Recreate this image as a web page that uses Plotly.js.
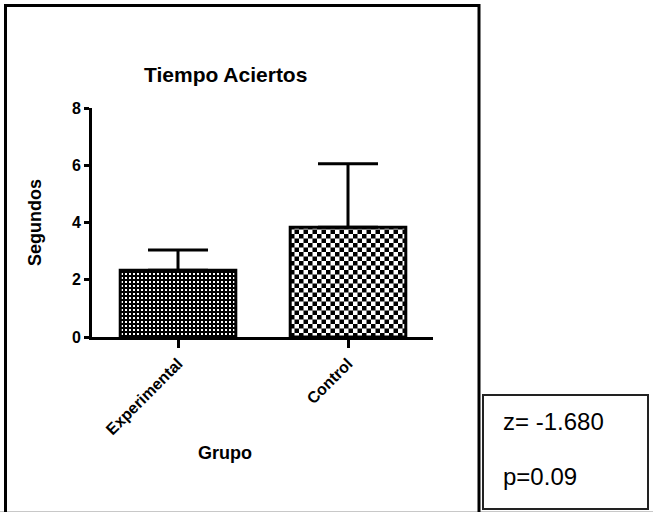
<!DOCTYPE html>
<html>
<head>
<meta charset="utf-8">
<script src="https://cdn.plot.ly/plotly-3.0.1.min.js"></script>
<style>html,body{margin:0;padding:0;background:#fff;}#chart{width:653px;height:512px;}</style>
</head>
<body>
<div id="chart"></div>
<script>
// ---- data ----
const categories = ['Experimental', 'Control'];
const means = [2.33, 3.83];
const errUp = [0.71, 2.22];
const yTicks = [0, 2, 4, 6, 8];
const chartTitle = 'Tiempo Aciertos';
const xTitle = 'Grupo';
const yTitle = 'Segundos';
const statLines = ['z= -1.680', 'p=0.09'];

// ---- layout geometry (pixels) ----
const W = 653, H = 512;
const L = 92, T = 108, R = 433, B = 337;
const pw = R - L, ph = B - T;
const px = x => (x - L) / pw;
const py = y => (B - y) / ph;
const FONT = 'Arial, "Liberation Sans", sans-serif';

const patterns = [
  {path: 'M0,0H4V1H0ZM0,3H4V4H0ZM0,1H1V3H0ZM3,1H4V3H3Z', size: 4, solidity: 0.75,
   fgcolor: '#000', bgcolor: '#fff', fillmode: 'replace'},
  {path: 'M0,0H4.5V4.5H0ZM4.5,4.5H9V9H4.5Z', size: 9, solidity: 0.5,
   fgcolor: '#000', bgcolor: '#fff', fillmode: 'replace'}
];

const traces = categories.map((c, i) => ({
  type: 'bar',
  x: [c],
  y: [means[i]],
  width: 0.68,
  marker: {color: '#fff', line: {color: '#000', width: 3}, pattern: patterns[i]},
  error_y: {type: 'data', symmetric: false, array: [errUp[i]], arrayminus: [0],
            color: '#000', thickness: 3, width: 30},
  hoverinfo: 'skip'
}));

const layout = {
  width: W, height: H,
  margin: {l: L, r: W - R, t: T, b: H - B, pad: 0},
  paper_bgcolor: '#fff', plot_bgcolor: '#fff',
  showlegend: false, barmode: 'overlay',
  font: {family: FONT, color: '#000'},
  xaxis: {
    range: [-0.506, 1.5], categoryorder: 'array', categoryarray: categories,
    showline: true, linecolor: '#000', linewidth: 3,
    ticks: 'outside', ticklen: 8, tickwidth: 3, tickcolor: '#000',
    tickangle: -45,
    tickfont: {family: FONT, size: 16, weight: 'bold', color: '#000'},
    showgrid: false, zeroline: false, fixedrange: true
  },
  yaxis: {
    range: [0, 8],
    tickvals: yTicks, ticktext: yTicks.map(String),
    showline: true, linecolor: '#000', linewidth: 3,
    ticks: 'outside', ticklen: 5, tickwidth: 3, tickcolor: '#000',
    tickfont: {family: FONT, size: 16, weight: 'bold', color: '#000'},
    showgrid: false, zeroline: false, fixedrange: true
  },
  shapes: [
    {type: 'line', xref: 'paper', yref: 'paper', x0: px(0), x1: px(653), y0: py(511.5), y1: py(511.5),
     line: {color: '#c8c8c8', width: 1}, layer: 'above'},
    {type: 'rect', xref: 'paper', yref: 'paper', x0: px(5.5), x1: px(479), y0: py(514), y1: py(5.5),
     line: {color: '#000', width: 3}, fillcolor: 'rgba(0,0,0,0)', layer: 'above'},
    {type: 'rect', xref: 'paper', yref: 'paper', x0: px(483), x1: px(648), y0: py(509), y1: py(395),
     line: {color: '#222', width: 2}, fillcolor: 'rgba(0,0,0,0)', layer: 'above'}
  ],
  annotations: [
    {text: chartTitle, xref: 'paper', yref: 'paper', x: px(225), y: py(74), xanchor: 'center', yanchor: 'middle',
     showarrow: false, font: {family: FONT, size: 21, weight: 'bold', color: '#000'}},
    {text: yTitle, xref: 'paper', yref: 'paper', x: px(35), y: py(223), xanchor: 'center', yanchor: 'middle',
     textangle: -90, showarrow: false, font: {family: FONT, size: 18, weight: 'bold', color: '#000'}},
    {text: xTitle, xref: 'paper', yref: 'paper', x: px(225), y: py(453), xanchor: 'center', yanchor: 'middle',
     showarrow: false, font: {family: FONT, size: 18, weight: 'bold', color: '#000'}},
    {text: statLines[0], xref: 'paper', yref: 'paper', x: px(501), y: py(421), xanchor: 'left', yanchor: 'middle',
     showarrow: false, font: {family: FONT, size: 24, color: '#000'}},
    {text: statLines[1], xref: 'paper', yref: 'paper', x: px(501), y: py(476), xanchor: 'left', yanchor: 'middle',
     showarrow: false, font: {family: FONT, size: 24, color: '#000'}}
  ]
};

Plotly.newPlot('chart', traces, layout, {displayModeBar: false, staticPlot: true});
</script>
</body>
</html>
